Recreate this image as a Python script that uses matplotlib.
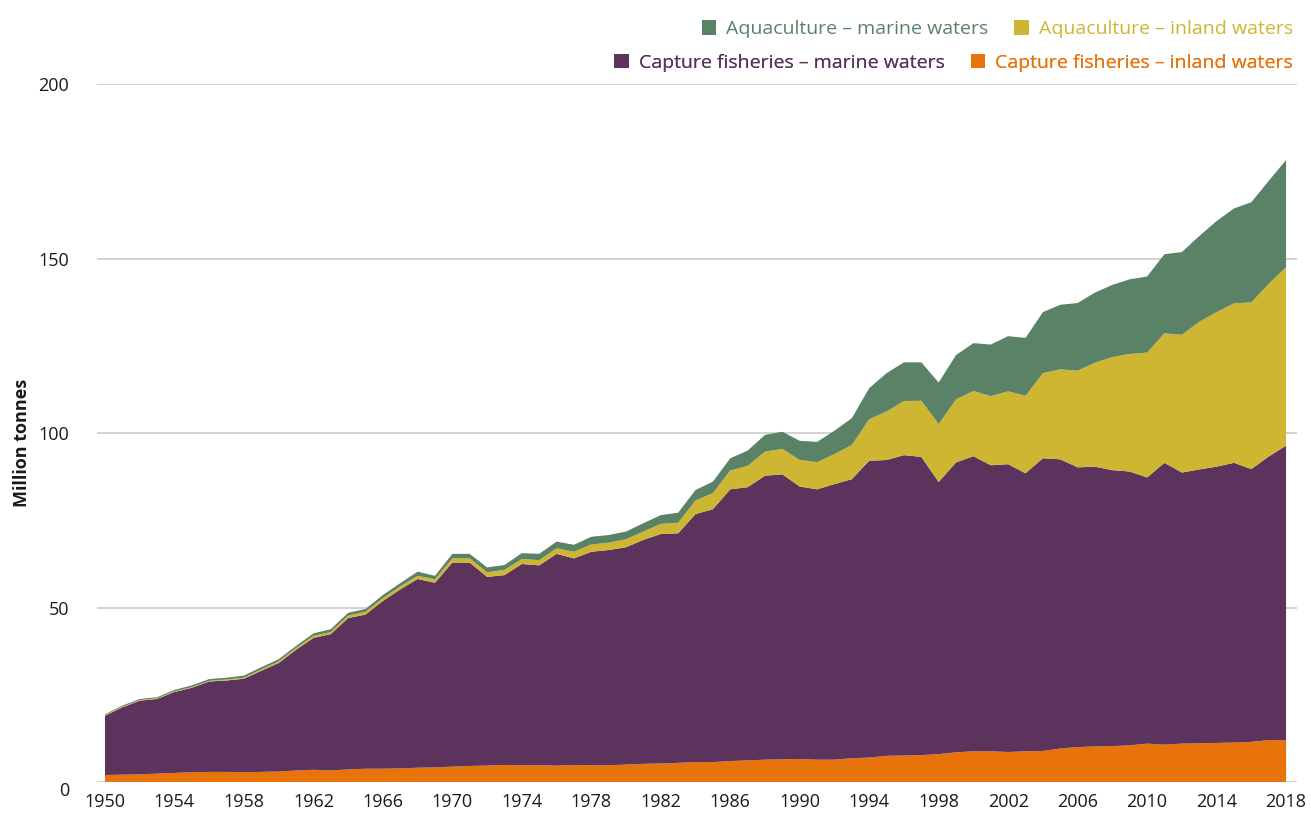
import numpy as np
import matplotlib
matplotlib.use("Agg")
from matplotlib import pyplot as plt
from matplotlib.patches import Patch

plt.rcParams["font.family"] = ["Open Sans", "DejaVu Sans"]

years = list(range(1950, 2019))

# million tonnes
capture_inland = [
    2.0, 2.1, 2.2, 2.4, 2.6, 2.8, 2.9, 2.9, 2.8, 2.9,
    3.0, 3.3, 3.5, 3.3, 3.6, 3.8, 3.8, 3.9, 4.1, 4.2,
    4.4, 4.6, 4.7, 4.9, 4.8, 4.8, 4.7, 4.9, 4.8, 4.8,
    5.0, 5.2, 5.3, 5.5, 5.7, 5.7, 6.0, 6.2, 6.4, 6.5,
    6.6, 6.4, 6.4, 6.8, 7.0, 7.5, 7.6, 7.7, 8.0, 8.5,
    8.8, 8.8, 8.6, 8.8, 8.9, 9.6, 10.0, 10.2, 10.3, 10.5,
    11.0, 10.7, 11.0, 11.1, 11.2, 11.3, 11.5, 12.0, 12.0,
]
capture_marine = [
    17.0, 19.3, 21.1, 21.4, 23.2, 24.2, 25.9, 26.2, 26.8, 29.0,
    31.1, 34.6, 37.8, 39.1, 43.4, 44.2, 48.1, 51.3, 54.1, 52.9,
    58.5, 58.3, 54.1, 54.4, 57.7, 57.3, 60.7, 59.2, 61.2, 61.7,
    62.3, 64.2, 65.8, 65.8, 71.1, 72.5, 77.9, 78.3, 81.4, 81.7,
    78.1, 77.5, 79.0, 80.0, 85.1, 84.8, 86.1, 85.5, 78.0, 83.1,
    84.6, 82.0, 82.5, 79.7, 83.9, 82.9, 80.2, 80.2, 79.1, 78.5,
    76.3, 80.8, 77.7, 78.5, 79.2, 80.2, 78.2, 81.3, 84.4,
]
aqua_inland = [
    0.2, 0.2, 0.2, 0.2, 0.2, 0.2, 0.2, 0.3, 0.3, 0.4,
    0.5, 0.5, 0.6, 0.6, 0.7, 0.8, 0.8, 0.9, 0.9, 1.0,
    1.2, 1.2, 1.3, 1.5, 1.4, 1.5, 1.6, 1.9, 2.1, 2.1,
    2.3, 2.4, 2.9, 3.0, 3.9, 4.6, 5.4, 6.1, 6.9, 7.3,
    7.6, 7.8, 8.6, 9.8, 11.9, 13.9, 15.5, 16.1, 16.6, 18.1,
    18.7, 19.8, 20.9, 22.2, 24.4, 25.8, 27.7, 29.8, 32.4, 33.7,
    35.8, 37.1, 39.5, 42.3, 44.3, 45.7, 47.8, 49.5, 51.2,
]
aqua_marine = [
    0.2, 0.3, 0.3, 0.3, 0.4, 0.5, 0.5, 0.5, 0.6, 0.6,
    0.6, 0.6, 0.7, 0.8, 0.8, 0.8, 0.9, 0.9, 1.2, 1.0,
    1.3, 1.3, 1.4, 1.4, 1.7, 1.8, 1.9, 2.0, 2.2, 2.2,
    2.2, 2.4, 2.5, 2.9, 3.0, 3.3, 3.5, 4.4, 4.8, 4.9,
    5.5, 5.8, 6.7, 7.7, 8.9, 11.0, 11.1, 11.0, 11.9, 12.7,
    13.7, 14.8, 15.8, 16.6, 17.5, 18.5, 19.4, 20.1, 20.7, 21.4,
    21.8, 22.7, 23.7, 24.6, 26.1, 27.2, 28.7, 29.5, 30.7,
]

labels = [
    "Capture fisheries \u2013 inland waters",
    "Capture fisheries \u2013 marine waters",
    "Aquaculture \u2013 inland waters",
    "Aquaculture \u2013 marine waters",
]
colors = ["#e8730b", "#5b335d", "#ceb632", "#5a8266"]

fig = plt.figure(figsize=(13.11, 8.21), dpi=100)
ax = fig.add_axes([97 / 1311, 39 / 821, 1200 / 1311, 697.7 / 821])

ax.stackplot(years, capture_inland, capture_marine, aqua_inland, aqua_marine,
             colors=colors, linewidth=0, zorder=2)

ax.set_xlim(1949.54, 2018.63)
ax.set_ylim(0, 200)
ax.set_yticks([0, 50, 100, 150, 200])
ax.set_xticks(list(range(1950, 2019, 4)))
ax.yaxis.grid(True, color="#d3cec8", linewidth=1.3, zorder=0)
ax.set_axisbelow(True)
for s in ax.spines.values():
    s.set_visible(False)
ax.tick_params(axis="both", length=0, labelsize=13, colors="#1a1a1a")
ax.tick_params(axis="y", pad=20)
ax.tick_params(axis="x", pad=8)
ax.get_yticklabels()[0].set_va("top")

fig.text(22 / 1311, 1 - 443 / 821, "Million tonnes", rotation=90,
         fontsize=13, fontweight="bold", ha="center", va="center",
         color="#1a1a1a")

# two legend rows, each right aligned
rows = [[3, 2], [1, 0]]
ypos = [1.079, 1.031]
for row, yy in zip(rows, ypos):
    handles = [Patch(facecolor=colors[i], edgecolor="none") for i in row]
    leg = ax.legend(handles, [labels[i] for i in row], ncol=2, frameon=False,
                    loc="center right", bbox_to_anchor=(0.9965, yy),
                    fontsize=14, handlelength=0.75, handleheight=0.75,
                    handletextpad=0.5, columnspacing=1.35, borderaxespad=0,
                    borderpad=0)
    for t, i in zip(leg.get_texts(), row):
        t.set_color(colors[i])
    ax.add_artist(leg)

fig.savefig("out.png", dpi=100)
